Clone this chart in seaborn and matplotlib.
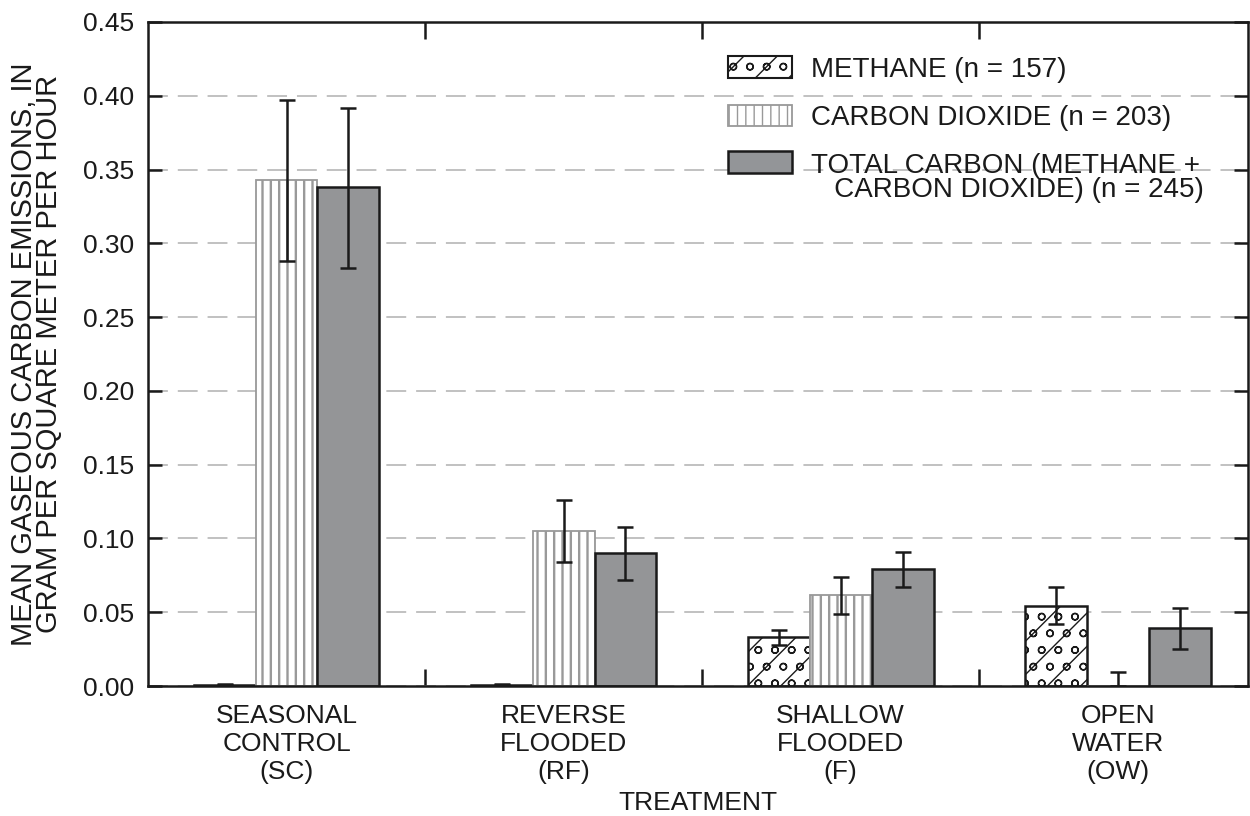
import matplotlib
matplotlib.use("Agg")
import matplotlib.pyplot as plt
from matplotlib.patches import Patch
import seaborn as sns
import pandas as pd

# values (gram per square meter per hour)
treatments = ["SEASONAL\nCONTROL\n(SC)", "REVERSE\nFLOODED\n(RF)",
              "SHALLOW\nFLOODED\n(F)", "OPEN\nWATER\n(OW)"]
gases = ["METHANE", "CARBON DIOXIDE", "TOTAL CARBON"]
legend_labels = ["METHANE (n = 157)", "CARBON DIOXIDE (n = 203)",
                 "TOTAL CARBON (METHANE +\n   CARBON DIOXIDE) (n = 245)"]

methane = [0.0008, 0.0008, 0.033, 0.054]
methane_lo = [0.0004, 0.0005, 0.028, 0.042]
methane_hi = [0.0013, 0.0011, 0.038, 0.067]

co2 = [0.343, 0.105, 0.062, 0.0]
co2_lo = [0.288, 0.084, 0.049, 0.0]
co2_hi = [0.397, 0.126, 0.074, 0.0095]

total = [0.338, 0.090, 0.079, 0.039]
total_lo = [0.283, 0.072, 0.067, 0.025]
total_hi = [0.392, 0.108, 0.091, 0.053]

means = [methane, co2, total]
lows = [methane_lo, co2_lo, total_lo]
highs = [methane_hi, co2_hi, total_hi]

rows = []
for g, vals in zip(gases, means):
    for t, v in zip(treatments, vals):
        rows.append({"treatment": t, "gas": g, "value": v})
df = pd.DataFrame(rows)

sns.set_style("white")
plt.rcParams["font.family"] = ["Liberation Sans", "DejaVu Sans"]
plt.rcParams["hatch.linewidth"] = 1.0

fig = plt.figure(figsize=(12.5, 8.16), dpi=100)
ax = fig.add_axes([148 / 1250, 1 - 686 / 816, 1100 / 1250, 664 / 816])

palette = {"METHANE": "white", "CARBON DIOXIDE": "white", "TOTAL CARBON": "#939598"}
sns.barplot(data=df, x="treatment", y="value", hue="gas", hue_order=gases,
            order=treatments, palette=palette, width=0.67, errorbar=None,
            edgecolor="black", linewidth=1.8, legend=False, ax=ax, zorder=2)

hatches = ["/o", "||", ""]
edges = ["#1a1a1a", "#999999", "#1a1a1a"]
hatch_lw = [1.0, 1.7, 1.0]
for cont, h, ec, hl, lo, hi, m in zip(ax.containers, hatches, edges, hatch_lw,
                                       lows, highs, means):
    xs = []
    for bar in cont:
        bar.set_hatch(h)
        bar.set_edgecolor(ec)
        if hasattr(bar, "set_hatch_linewidth"):
            bar.set_hatch_linewidth(hl)
        if h == "||":
            bar.set_linewidth(1.3)
        xs.append(bar.get_x() + bar.get_width() / 2)
    yerr = [[v - l for v, l in zip(m, lo)], [u - v for v, u in zip(m, hi)]]
    ax.errorbar(xs, m, yerr=yerr, fmt="none", ecolor="#1a1a1a", elinewidth=1.8,
                capsize=6, capthick=1.8, zorder=4)

ax.set_ylim(0, 0.45)
ax.set_xlim(-0.5, 3.47)
ax.set_yticks([i * 0.05 for i in range(10)])
ax.set_yticklabels([f"{i * 0.05:.2f}" for i in range(10)])
ax.set_xticks(range(4))
ax.set_xticklabels(treatments, linespacing=1.22)
ax.set_xticks([0.5, 1.5, 2.5], minor=True)

ax.yaxis.grid(True, color="#b0b0b0", linewidth=1.1, linestyle=(0, (13, 6.5)), zorder=0)
ax.set_axisbelow(True)

for s in ax.spines.values():
    s.set_visible(True)
    s.set_linewidth(1.8)
    s.set_color("#1a1a1a")

ax.tick_params(axis="y", direction="in", left=True, right=True, length=10,
               width=1.8, labelsize=19, pad=10, colors="#1a1a1a")
ax.tick_params(axis="x", which="major", length=0, labelsize=19, pad=13,
               colors="#1a1a1a")
ax.tick_params(axis="x", which="minor", direction="in", bottom=True, top=True,
               length=12, width=1.8, color="#1a1a1a")

ax.set_xlabel("TREATMENT", fontsize=19, labelpad=5, color="#1a1a1a")
ax.set_ylabel("MEAN GASEOUS CARBON EMISSIONS, IN\nGRAM PER SQUARE METER PER HOUR",
              fontsize=21, labelpad=14, linespacing=0.9, color="#1a1a1a")

handles = [Patch(facecolor="white", edgecolor="#1a1a1a", hatch="/o", linewidth=1.5),
           Patch(facecolor="white", edgecolor="#999999", hatch="||", linewidth=1.3),
           Patch(facecolor="#939598", edgecolor="#1a1a1a", linewidth=1.8)]
leg = ax.legend(handles, legend_labels, loc="upper left", bbox_to_anchor=(0.517, 0.965),
                frameon=False, fontsize=20, handlelength=2.3, handleheight=0.8,
                handletextpad=0.7, labelspacing=0.8, borderaxespad=0)
for t in leg.get_texts():
    t.set_color("#1a1a1a")
    t.set_linespacing(0.9)
# keep the total-carbon swatch level with the first line of its label
leg.legend_handles[2].set_y(leg.legend_handles[2].get_y() + 12)

fig.savefig("out.png", dpi=100)
